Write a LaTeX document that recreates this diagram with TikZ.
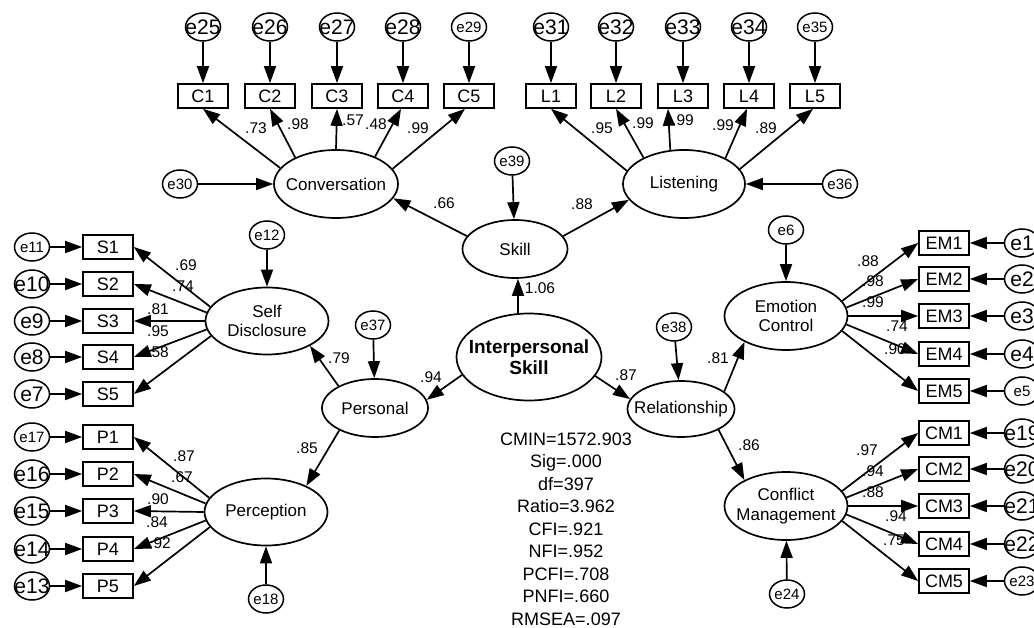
\documentclass[tikz,border=0pt]{standalone}
\usepackage{fontspec}
\setmainfont{Liberation Sans}
\usetikzlibrary{shapes.geometric,arrows.meta}
\newcommand{\myfs}[1]{\fontsize{#1}{#1}\selectfont}
\begin{document}
\begin{tikzpicture}[x=1pt,y=-1pt,
  lat/.style={ellipse,draw,line width=1.7pt,inner sep=0pt},
  lt/.style={font=\fontsize{17}{19.5}\selectfont,align=center,inner sep=0pt},
  obs/.style={rectangle,draw,line width=1.7pt,minimum width=50pt,minimum height=24pt,inner sep=0pt,font=\myfs{18}},
  err/.style={ellipse,draw,line width=1.5pt,minimum width=35pt,minimum height=28pt,inner sep=0pt},
  eT/.style={font=\myfs{#1},inner sep=0pt},
  arr/.style={line width=1.7pt,-{Triangle[length=17pt,width=12pt]}},
  lbl/.style={font=\myfs{15.5},inner sep=0pt}]
\useasboundingbox (0,0) rectangle (1034,628);

% latent variables
\node[lat,minimum width=124pt,minimum height=68pt,label={[lt]center:Conversation}] (conv) at (336,184) {};
\node[lat,minimum width=122pt,minimum height=68pt,label={[lt]center:Listening}] (lis) at (684,184) {};
\node[lat,minimum width=105pt,minimum height=58pt,label={[lt]center:Skill}] (skill) at (515,249) {};
\node[lat,minimum width=145pt,minimum height=87pt,label={[lt,font=\fontsize{19}{21}\selectfont\bfseries]center:Interpersonal\\Skill}] (ip) at (529,357) {};
\node[lat,minimum width=106pt,minimum height=58pt,label={[lt]center:Personal}] (pers) at (375,408) {};
\node[lat,minimum width=107pt,minimum height=56pt,label={[lt]center:Relationship}] (rel) at (681,409) {};
\node[lat,minimum width=123pt,minimum height=67pt,label={[lt]center:Self\\Disclosure}] (sd) at (267,321) {};
\node[lat,minimum width=123pt,minimum height=67pt,label={[lt]center:Perception}] (perc) at (266,512) {};
\node[lat,minimum width=123pt,minimum height=68pt,label={[lt]center:Emotion\\Control}] (ec) at (786,316) {};
\node[lat,minimum width=123pt,minimum height=68pt,label={[lt]center:Conflict\\Management}] (cm) at (786,506) {};

% fit statistics
\node[font=\fontsize{18}{22.5}\selectfont,align=center,inner sep=0pt] (stats) at (566,529)
  {CMIN=1572.903\\Sig=.000\\df=397\\Ratio=3.962\\CFI=.921\\NFI=.952\\PCFI=.708\\PNFI=.660\\RMSEA=.097};

% path labels
\foreach \t/\x/\y [count=\k] in {.73/256/128,.98/298/124,.57/353/120,.48/376/124,.99/418/128,
  .95/602/128,.99/643/123,.99/683/120,.99/723/125,.89/766/128,
  .66/444/203,.88/582/204,1.06/540/288,.94/431/377,.87/626/375,.79/339/358,.81/718/358,.85/307/448,.86/749/445,
  .69/186/265,.74/183/286,.81/158/309,.95/158/331,.58/158/352,
  .87/184/456,.67/182/477,.90/158/499,.84/157/522,.92/160/543,
  .88/868/261,.98/873/281,.99/873/302,.74/897/326,.90/895/349,
  .97/867/450,.94/873/471,.88/873/492,.94/896/516,.75/894/540}
  \node[lbl] (lb\k) at (\x,\y) {\t};

% structural paths
\draw[arr] (skill.165) -- (conv.-14);
\draw[arr] (skill.15) -- (lis.196);
\draw[arr] ([xshift=-11pt]ip.north) -- ([xshift=3pt]skill.south);
\draw[arr] (ip.195) -- (pers.9);
\draw[arr] (ip.-16) -- (rel.169);
\draw[arr] (pers.149) -- (sd.-30);
\draw[arr] (pers.212) -- (perc.33);
\draw[arr] (rel.22) -- (ec.212);
\draw[arr] (rel.-29) -- (cm.148);

% disturbances of latents
\foreach \n/\x/\y/\tgt in {e30/180/184/conv,e36/840/184/lis,e39/512/161/skill,e37/373/325/pers,
  e38/674/327/rel,e12/267/235/sd,e18/266/599/perc,e6/786/230/ec,e24/787/594/cm} {
  \node[err,label={[eT=15]center:\n}] (\n) at (\x,\y) {};
  \draw[arr] (\n) -- (\tgt);
}

% top indicators
\foreach \b/\x/\e/\fz/\a/\s in {C1/203/25/21/164/0,C2/270/26/21/147/0,C3/337/27/21/90/0,C4/403/28/21/35/-2,C5/469/29/15/15/-4} {
  \node[obs] (\b) at (\x,96) {\b};
  \node[err,label={[eT=\fz]center:e\e}] (e\e) at (\x,27) {};
  \draw[arr] (e\e) -- (\b);
  \draw[arr] (conv.\a) -- ([xshift=\s pt]\b.south);
}
\foreach \b/\x/\e/\fz/\a/\s in {L1/551/31/21/167/0,L2/616/32/21/147/0,L3/683/33/21/112/-15,L4/749/34/21/32/-2,L5/815/35/15/15/-2} {
  \node[obs] (\b) at (\x,96) {\b};
  \node[err,label={[eT=\fz]center:e\e}] (e\e) at (\x,27) {};
  \draw[arr] (e\e) -- (\b);
  \draw[arr] (lis.\a) -- ([xshift=\s pt]\b.south);
}

% left indicators
\foreach \b/\y/\e/\fz/\a in {S1/247/11/15/166,S2/284/10/21/172,S3/321/9/21/180,S4/357/8/21/188,S5/394/7/21/195} {
  \node[obs] (\b) at (108,\y) {\b};
  \node[err,label={[eT=\fz]center:e\e}] (e\e) at (32,\y) {};
  \draw[arr] (e\e) -- (\b);
  \draw[arr] (sd.\a) -- (\b.east);
}
\foreach \b/\y/\e/\fz/\a in {P1/437/17/15/166,P2/474/16/21/172,P3/511/15/21/180,P4/549/14/21/188,P5/586/13/21/195} {
  \node[obs] (\b) at (108,\y) {\b};
  \node[err,label={[eT=\fz]center:e\e}] (e\e) at (32,\y) {};
  \draw[arr] (e\e) -- (\b);
  \draw[arr] (perc.\a) -- (\b.east);
}

% right indicators
\foreach \b/\y/\e/\fz/\a in {EM1/243/1/21/15,EM2/279/2/21/8,EM3/316/3/21/0,EM4/354/4/21/-8,EM5/391/5/15/-15} {
  \node[obs] (\b) at (944,\y) {\b};
  \node[err,label={[eT=\fz]center:e\e}] (e\e) at (1022,\y) {};
  \draw[arr] (e\e) -- (\b);
  \draw[arr] (ec.\a) -- (\b.west);
}
\foreach \b/\y/\e/\fz/\a in {CM1/433/19/21/15,CM2/469/20/21/8,CM3/506/21/21/0,CM4/544/22/21/-8,CM5/581/23/15/-15} {
  \node[obs] (\b) at (944,\y) {\b};
  \node[err,label={[eT=\fz]center:e\e}] (e\e) at (1022,\y) {};
  \draw[arr] (e\e) -- (\b);
  \draw[arr] (cm.\a) -- (\b.west);
}
\end{tikzpicture}
\end{document}
